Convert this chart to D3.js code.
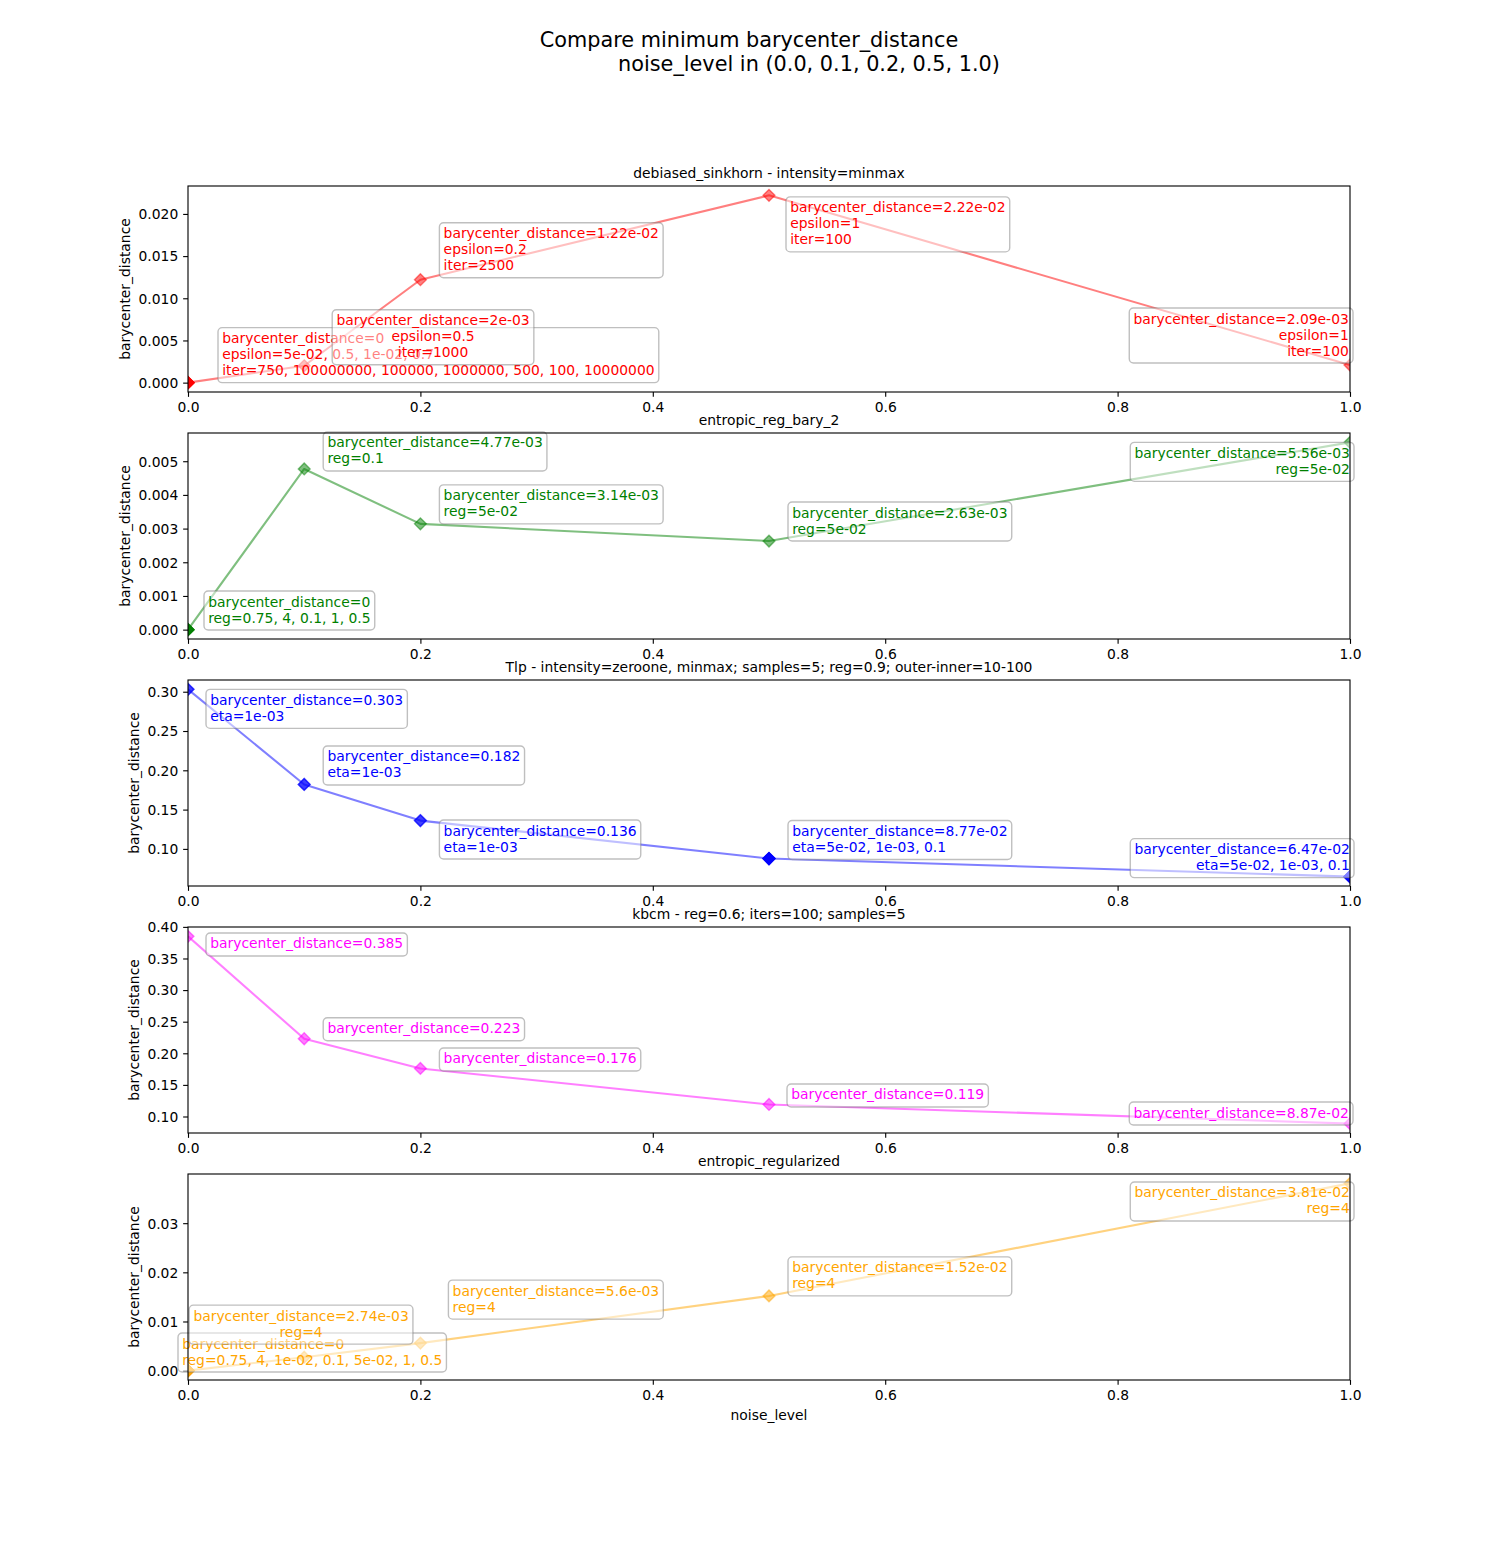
<!DOCTYPE html>
<html>
<head>
<meta charset="utf-8">
<script src="https://cdn.jsdelivr.net/npm/d3@7"></script>
<style>
  html, body { margin: 0; padding: 0; background: #fff; }
  svg { display: block; font-family: "DejaVu Sans", sans-serif; }
</style>
</head>
<body>
<svg id="chart" width="1500" height="1550"></svg>
<script>
// ---------------- data ----------------
const noiseLevels = [0.0, 0.1, 0.2, 0.5, 1.0];
const xTicks = [0.0, 0.2, 0.4, 0.6, 0.8, 1.0];

const titleLines = ["Compare minimum barycenter_distance", "noise_level in (0.0, 0.1, 0.2, 0.5, 1.0)"];
const panelTitles = [
  "debiased_sinkhorn - intensity=minmax",
  "entropic_reg_bary_2",
  "Tlp - intensity=zeroone, minmax; samples=5; reg=0.9; outer-inner=10-100",
  "kbcm - reg=0.6; iters=100; samples=5",
  "entropic_regularized"
];
const panelColors = ["#ff0000", "#008000", "#0000ff", "#ff00ff", "#ffa500"];

const dist1 = [0, 0.002, 0.0122, 0.0222, 0.00209];
const dist2 = [0, 0.00477, 0.00314, 0.00263, 0.00556];
const dist3 = [0.303, 0.182, 0.136, 0.0877, 0.0647];
const dist4 = [0.385, 0.223, 0.176, 0.119, 0.0887];
const dist5 = [0, 0.00274, 0.0056, 0.0152, 0.0381];

// number of overlapping runs drawn at each point
const runs1 = [7, 1, 1, 1, 1];
const runs2 = [5, 1, 1, 1, 1];
const runs3 = [2, 2, 2, 6, 6];
const runs4 = [1, 1, 1, 1, 1];
const runs5 = [7, 1, 1, 1, 1];

const yTicks1 = [0.000, 0.005, 0.010, 0.015, 0.020];
const yTicks2 = [0.000, 0.001, 0.002, 0.003, 0.004, 0.005];
const yTicks3 = [0.10, 0.15, 0.20, 0.25, 0.30];
const yTicks4 = [0.10, 0.15, 0.20, 0.25, 0.30, 0.35, 0.40];
const yTicks5 = [0.00, 0.01, 0.02, 0.03];
const yFormats = [".3f", ".3f", ".2f", ".2f", ".2f"];

const labels1 = [
  ["barycenter_distance=0", "epsilon=5e-02, 0.5, 1e-02, 0.7", "iter=750, 100000000, 100000, 1000000, 500, 100, 10000000"],
  ["barycenter_distance=2e-03", "epsilon=0.5", "iter=1000"],
  ["barycenter_distance=1.22e-02", "epsilon=0.2", "iter=2500"],
  ["barycenter_distance=2.22e-02", "epsilon=1", "iter=100"],
  ["barycenter_distance=2.09e-03", "epsilon=1", "iter=100"]
];
const labels2 = [
  ["barycenter_distance=0", "reg=0.75, 4, 0.1, 1, 0.5"],
  ["barycenter_distance=4.77e-03", "reg=0.1"],
  ["barycenter_distance=3.14e-03", "reg=5e-02"],
  ["barycenter_distance=2.63e-03", "reg=5e-02"],
  ["barycenter_distance=5.56e-03", "reg=5e-02"]
];
const labels3 = [
  ["barycenter_distance=0.303", "eta=1e-03"],
  ["barycenter_distance=0.182", "eta=1e-03"],
  ["barycenter_distance=0.136", "eta=1e-03"],
  ["barycenter_distance=8.77e-02", "eta=5e-02, 1e-03, 0.1"],
  ["barycenter_distance=6.47e-02", "eta=5e-02, 1e-03, 0.1"]
];
const labels4 = [
  ["barycenter_distance=0.385"],
  ["barycenter_distance=0.223"],
  ["barycenter_distance=0.176"],
  ["barycenter_distance=0.119"],
  ["barycenter_distance=8.87e-02"]
];
const labels5 = [
  ["barycenter_distance=0", "reg=0.75, 4, 1e-02, 0.1, 5e-02, 1, 0.5"],
  ["barycenter_distance=2.74e-03", "reg=4"],
  ["barycenter_distance=5.6e-03", "reg=4"],
  ["barycenter_distance=1.52e-02", "reg=4"],
  ["barycenter_distance=3.81e-02", "reg=4"]
];

// ---------------- layout (label box placement relative to its point) ----------------
// [dx, dy, align]; dx = box left edge offset (box right edge when align is "right"), dy = box top offset
const place1 = [[30, -55, "left"], [28, -56, "center"], [19, -57, "left"], [17, 1.5, "left"], [3, -57, "right"]];
const place2 = [[16, -38.6, "left"], [19, -37, "left"], [19, -39, "left"], [19, -39, "left"], [4, 0, "right"]];
const place3 = [[18, 0, "left"], [19, -38.5, "left"], [19, -0.6, "left"], [19, -38, "left"], [4, -38, "right"]];
const place4 = [[18, -3.4, "left"], [19, -21, "left"], [19, -20.5, "left"], [18, -20.5, "left"], [3, -21.6, "right"]];
const place5 = [[-10, -37.6, "left"], [-115, -52, "center"], [28, -63, "left"], [19, -39, "left"], [4, -1.4, "right"]];

const distances = [dist1, dist2, dist3, dist4, dist5];
const runs = [runs1, runs2, runs3, runs4, runs5];
const yTickSets = [yTicks1, yTicks2, yTicks3, yTicks4, yTicks5];
const labelSets = [labels1, labels2, labels3, labels4, labels5];
const placeSets = [place1, place2, place3, place4, place5];

// ---------------- drawing ----------------
const svg = d3.select("#chart");
const FS = 13.89;
const axLeft = 188, axRight = 1350, axH = 206;
const axTops = [186, 433, 680, 927, 1174];
const tickLen = 4.86, tickPad = 4.86;

svg.append("rect").attr("width", 1500).attr("height", 1550).attr("fill", "#fff");

// suptitle
svg.append("text").attr("x", 749).attr("y", 47).attr("text-anchor", "middle")
  .attr("font-size", 20.8).attr("fill", "#000").text(titleLines[0]);
svg.append("text").attr("x", 809).attr("y", 70.5).attr("text-anchor", "middle")
  .attr("font-size", 20.8).attr("fill", "#000").text(titleLines[1]);

const x = d3.scaleLinear().domain([0, 1]).range([axLeft, axRight]);

const diamond = (cx, cy, r) => `M${cx},${cy - r}L${cx + r},${cy}L${cx},${cy + r}L${cx - r},${cy}Z`;

distances.forEach((vals, i) => {
  const top = axTops[i], bottom = top + axH;
  const color = panelColors[i];
  const mn = d3.min(vals), mx = d3.max(vals), span = mx - mn;
  const y = d3.scaleLinear().domain([mn - 0.05 * span, mx + 0.05 * span]).range([bottom, top]);

  const g = svg.append("g");
  const clipId = "clip" + i;
  svg.append("clipPath").attr("id", clipId).append("rect")
    .attr("x", axLeft).attr("y", top).attr("width", axRight - axLeft).attr("height", axH);

  // x axis
  const xa = g.append("g").attr("transform", `translate(0,${bottom})`)
    .call(d3.axisBottom(x).tickValues(xTicks).tickFormat(d3.format(".1f")).tickSize(tickLen).tickPadding(tickPad));
  // y axis
  const ya = g.append("g").attr("transform", `translate(${axLeft},0)`)
    .call(d3.axisLeft(y).tickValues(yTickSets[i]).tickFormat(d3.format(yFormats[i])).tickSize(tickLen).tickPadding(tickPad));
  [xa, ya].forEach(a => {
    a.attr("font-family", null).attr("font-size", null);
    a.select(".domain").remove();
    a.selectAll(".tick line").attr("stroke", "#000").attr("stroke-width", 1.11);
    a.selectAll(".tick text").attr("fill", "#000").attr("font-size", FS).attr("font-family", "DejaVu Sans");
  });
  xa.selectAll(".tick text").attr("dy", "0.76em");
  ya.selectAll(".tick text").attr("dy", "0.35em");

  // y label
  let maxW = 0;
  ya.selectAll(".tick text").each(function () { maxW = Math.max(maxW, this.getBBox().width); });
  const labX = axLeft - tickLen - tickPad - maxW - 5.56 - 3.3;
  g.append("text").attr("transform", `translate(${labX},${(top + bottom) / 2}) rotate(-90)`)
    .attr("text-anchor", "middle").attr("font-size", FS).attr("fill", "#000").text("barycenter_distance");

  // panel title
  g.append("text").attr("x", (axLeft + axRight) / 2).attr("y", top - 8.3).attr("text-anchor", "middle")
    .attr("font-size", FS).attr("fill", "#000").text(panelTitles[i]);

  // line + markers
  const plot = g.append("g").attr("clip-path", `url(#${clipId})`);
  const pts = noiseLevels.map((nl, k) => ({ x: nl, y: vals[k], n: runs[i][k] }));
  plot.append("path").datum(pts)
    .attr("d", d3.line().x(d => x(d.x)).y(d => y(d.y)))
    .attr("fill", "none").attr("stroke", color).attr("stroke-opacity", 0.5).attr("stroke-width", 2.08)
    .attr("stroke-linejoin", "round").attr("stroke-linecap", "butt");
  pts.forEach(p => {
    for (let r = 0; r < p.n; r++) {
      plot.append("path").attr("d", diamond(x(p.x), y(p.y), 5.9))
        .attr("fill", color).attr("fill-opacity", 0.5)
        .attr("stroke", color).attr("stroke-opacity", 0.5).attr("stroke-width", 1.39);
    }
  });

  // annotations
  pts.forEach((p, k) => {
    const lines = labelSets[i][k];
    const [dx, dy, align] = placeSets[i][k];
    const px = x(p.x), py = y(p.y);
    const ag = g.append("g");
    const rect = ag.append("rect");
    const txt = ag.append("text").attr("font-size", FS).attr("fill", color);
    const tsp = txt.selectAll("tspan").data(lines).join("tspan").text(d => d);
    let w = 0;
    tsp.each(function () { w = Math.max(w, this.getComputedTextLength()); });
    const bw = w + 8.4;
    const bh = 15.5 + (lines.length - 1) * 16 + 7.5;
    const bx = align === "right" ? px + dx - bw : px + dx;
    const by = py + dy;
    rect.attr("x", bx).attr("y", by).attr("width", bw).attr("height", bh)
      .attr("rx", 4.2).attr("ry", 4.2)
      .attr("fill", "#fff").attr("fill-opacity", 0.5)
      .attr("stroke", "#808080").attr("stroke-opacity", 0.5).attr("stroke-width", 1.39);
    let tx, anchor;
    if (align === "right") { tx = bx + bw - 4.2; anchor = "end"; }
    else if (align === "center") { tx = bx + bw / 2; anchor = "middle"; }
    else { tx = bx + 4.2; anchor = "start"; }
    txt.attr("text-anchor", anchor);
    tsp.attr("x", tx).attr("y", (d, j) => by + 15.5 + j * 16);
  });

  // spines
  g.append("rect").attr("x", axLeft).attr("y", top).attr("width", axRight - axLeft).attr("height", axH)
    .attr("fill", "none").attr("stroke", "#000").attr("stroke-width", 1.11);
});

// x label of the last panel
svg.append("text").attr("x", (axLeft + axRight) / 2).attr("y", 1420).attr("text-anchor", "middle")
  .attr("font-size", FS).attr("fill", "#000").text("noise_level");
</script>
</body>
</html>
